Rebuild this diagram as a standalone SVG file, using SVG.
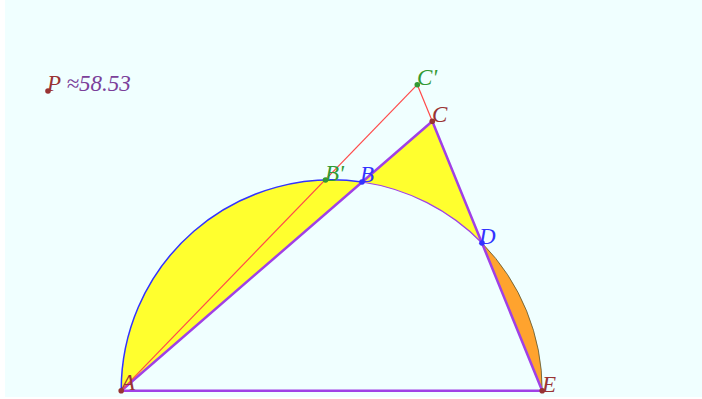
<svg xmlns="http://www.w3.org/2000/svg" width="702" height="399" viewBox="0 0 702 399">
<style>
.lbl{font-family:"Liberation Serif","Times New Roman",serif;font-style:italic;font-size:23px}
.red{fill:#993333}.blu{fill:#3333ff}.grn{fill:#339933}.pur{fill:#7b3f9a}
.seg{stroke:#a040e6;stroke-width:2.5;fill:none;stroke-linecap:round}
.aux{stroke:#ff4a4a;stroke-width:1.2;fill:none}
</style>
<rect x="0" y="0" width="702" height="399" fill="#ffffff"/>
<rect x="5" y="0" width="697" height="397" fill="#f0ffff"/>
<g id="regions">
<path d="M121.2,390.7 A210.5,210.5 0 0 1 362,182 Z" fill="#ffff2e"/>
<path d="M432.3,121.3 L362,182 A210.5,210.5 0 0 1 482,243 Z" fill="#ffff2e"/>
<path d="M482,243 A210.5,210.5 0 0 1 542.2,390.7 Z" fill="#ffa32e"/>
<path d="M121.2,390.7 A210.5,210.5 0 0 1 362,182" fill="none" stroke="#3333ff" stroke-width="1.5"/>
<path d="M362,182 A210.5,210.5 0 0 1 482,243" fill="none" stroke="#a040e6" stroke-width="1.2"/>
<path d="M482,243 A210.5,210.5 0 0 1 542.2,390.7" fill="none" stroke="#555533" stroke-width="0.8"/>
</g>
<g id="connectors">
<line class="seg" x1="121.2" y1="390.7" x2="542.2" y2="390.7"/>
<line class="seg" x1="121.2" y1="390.7" x2="432.3" y2="121.3"/>
<line class="seg" x1="432.3" y1="121.3" x2="542.2" y2="390.7"/>
<line class="aux" x1="121.2" y1="390.7" x2="417.3" y2="84.7"/>
<line class="aux" x1="417.3" y1="84.7" x2="432.3" y2="121.3"/>
</g>
<g id="P"><circle cx="48" cy="91" r="2.8" fill="#993333"/><text class="lbl" x="47" y="91"><tspan class="red">P</tspan><tspan class="pur"> ≈58.53</tspan></text></g>
<g id="A"><circle cx="121.2" cy="390.7" r="2.8" fill="#993333"/><text class="lbl red" x="121" y="390">A</text></g>
<g id="E"><circle cx="542.2" cy="390.7" r="2.8" fill="#993333"/><text class="lbl red" x="542" y="392">E</text></g>
<g id="C"><circle cx="432.3" cy="121.3" r="2.8" fill="#993333"/><text class="lbl red" x="432" y="122">C</text></g>
<g id="B"><circle cx="362" cy="182" r="2.8" fill="#3333ff"/><text class="lbl blu" x="360" y="182">B</text></g>
<g id="D"><circle cx="482" cy="243" r="2.8" fill="#3333ff"/><text class="lbl blu" x="479" y="244">D</text></g>
<g id="Bp"><circle cx="325.5" cy="180" r="2.8" fill="#339933"/><text class="lbl grn" x="325" y="181">B'</text></g>
<g id="Cp"><circle cx="417.3" cy="84.7" r="2.8" fill="#339933"/><text class="lbl grn" x="417" y="85">C'</text></g>
</svg>
